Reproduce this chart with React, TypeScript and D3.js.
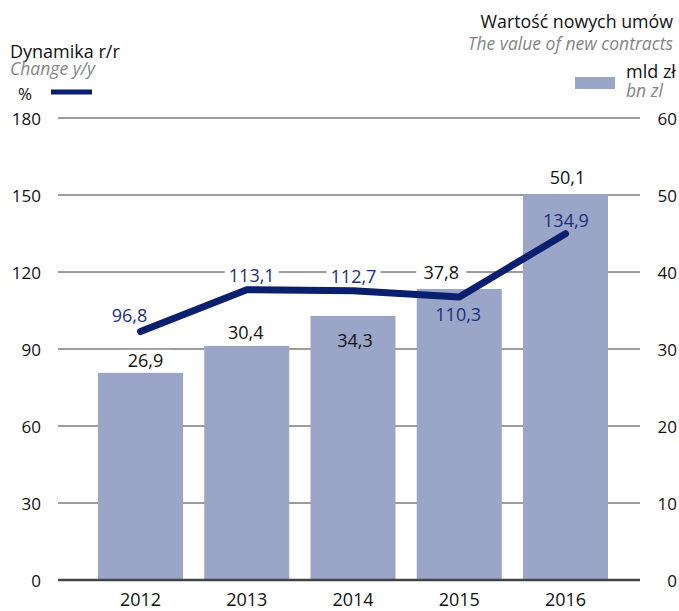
import React from "react";
import * as d3 from "d3";

const years = ["2012", "2013", "2014", "2015", "2016"];
const contractValues = [26.9, 30.4, 34.3, 37.8, 50.1];
const changeValues = [96.8, 113.1, 112.7, 110.3, 134.9];
const leftTicks = [0, 30, 60, 90, 120, 150, 180];
const rightTicks = [0, 10, 20, 30, 40, 50, 60];

const fmt = (v: number) => v.toFixed(1).replace(".", ",");

// label placement tweaks (dx, dy relative to anchor, background)
const barLabelOffsets = [
  { dx: 5, dy: -6, bg: true },
  { dx: -1, dy: -7, bg: true },
  { dx: 2, dy: 31, bg: false },
  { dx: -18, dy: -10, bg: true },
  { dx: 2, dy: -10, bg: false },
];
const lineLabelOffsets = [
  { dx: -11, dy: -10, bg: false },
  { dx: 5, dy: -8, bg: true },
  { dx: 0.5, dy: -8, bg: true },
  { dx: -1, dy: 24, bg: false },
  { dx: 0.5, dy: -7, bg: false },
];

const FONT = "'Open Sans', 'Noto Sans', sans-serif";
const BAR = "#9aa5c8";
const NAVY = "#0a1f6e";
const NAVY_TXT = "#1b2f7f";
const GRAY = "#858585";

export default function App() {
  const yL = d3.scaleLinear().domain([0, 180]).range([580, 118]);
  const yR = d3.scaleLinear().domain([0, 60]).range([580, 118]);
  const x = d3
    .scaleBand<string>()
    .domain(years)
    .range([87.375, 618.625])
    .paddingInner(0.2)
    .paddingOuter(0.1);
  const cx = (y: string) => (x(y) as number) + x.bandwidth() / 2;

  const line = d3
    .line<number>()
    .x((_, i) => cx(years[i]))
    .y((d) => yL(d));

  const gridX0 = 58;
  const gridX1 = 640;

  return (
    <div style={{ position: "absolute", left: 0, top: 0 }}>
      <svg width={679} height={611} style={{ display: "block" }} fontFamily={FONT}>
        <rect width={679} height={611} fill="#fff" />
        {/* headers */}
        <text x={10} y={58} fontSize={18} fill="#111">Dynamika r/r</text>
        <text x={10} y={75} fontSize={17.5} fill={GRAY} fontStyle="italic">Change y/y</text>
        <text x={18} y={100} fontSize={17} fill="#111">%</text>
        <line x1={51} x2={92} y1={92} y2={92} stroke={NAVY} strokeWidth={5} />

        <text x={673} y={28} fontSize={17.8} fill="#111" textAnchor="end">Wartość nowych umów</text>
        <text x={673} y={50} fontSize={17.5} fill={GRAY} fontStyle="italic" textAnchor="end">The value of new contracts</text>
        <rect x={575} y={77} width={40} height={12} fill={BAR} />
        <text x={626} y={78} fontSize={18} fill="#111">mld zł</text>
        <text x={626} y={97} fontSize={17.5} fill={GRAY} fontStyle="italic">bn zl</text>

        {/* gridlines */}
        {leftTicks.map((t) =>
          t === 0 ? null : (
            <line key={t} x1={gridX0} x2={gridX1} y1={yL(t)} y2={yL(t)} stroke="#3a3a3a" strokeWidth={1} />
          )
        )}
        {leftTicks.map((t) => (
          <text key={"l" + t} x={41} y={yL(t) + 6.5} fontSize={17} textAnchor="end" fill="#111">{t}</text>
        ))}
        {rightTicks.map((t) => (
          <text key={"r" + t} x={677} y={yR(t) + 6.5} fontSize={17} textAnchor="end" fill="#111">{t}</text>
        ))}

        {/* bars */}
        {years.map((yr, i) => (
          <rect
            key={yr}
            x={x(yr)}
            y={yR(contractValues[i])}
            width={x.bandwidth()}
            height={yR(0) - yR(contractValues[i])}
            fill={BAR}
          />
        ))}
        <line x1={gridX0} x2={gridX1} y1={yL(0)} y2={yL(0)} stroke="#444" strokeWidth={2.5} />

        {/* year labels */}
        {years.map((yr) => (
          <text key={"y" + yr} x={cx(yr)} y={606} fontSize={18} textAnchor="middle" fill="#111">{yr}</text>
        ))}

        {/* label backgrounds */}
        {years.map((yr, i) => {
          const o = barLabelOffsets[i];
          if (!o.bg) return null;
          const tx = cx(yr) + o.dx;
          const ty = yR(contractValues[i]) + o.dy;
          return <rect key={"bb" + yr} x={tx - 25} y={ty - 17} width={50} height={21} fill="#fff" />;
        })}
        {years.map((yr, i) => {
          const o = lineLabelOffsets[i];
          if (!o.bg) return null;
          const tx = cx(yr) + o.dx;
          const ty = yL(changeValues[i]) + o.dy;
          return <rect key={"lb" + yr} x={tx - 27} y={ty - 17} width={54} height={21} fill="#fff" />;
        })}

        {/* line */}
        <path
          d={line(changeValues) || ""}
          fill="none"
          stroke={NAVY}
          strokeWidth={7}
          strokeLinecap="round"
          strokeLinejoin="round"
        />

        {/* value labels */}
        {years.map((yr, i) => {
          const o = barLabelOffsets[i];
          return (
            <text key={"bv" + yr} x={cx(yr) + o.dx} y={yR(contractValues[i]) + o.dy} fontSize={18} textAnchor="middle" fill="#111">
              {fmt(contractValues[i])}
            </text>
          );
        })}
        {years.map((yr, i) => {
          const o = lineLabelOffsets[i];
          return (
            <text key={"lv" + yr} x={cx(yr) + o.dx} y={yL(changeValues[i]) + o.dy} fontSize={18} textAnchor="middle" fill={NAVY_TXT}>
              {fmt(changeValues[i])}
            </text>
          );
        })}
      </svg>
    </div>
  );
}
